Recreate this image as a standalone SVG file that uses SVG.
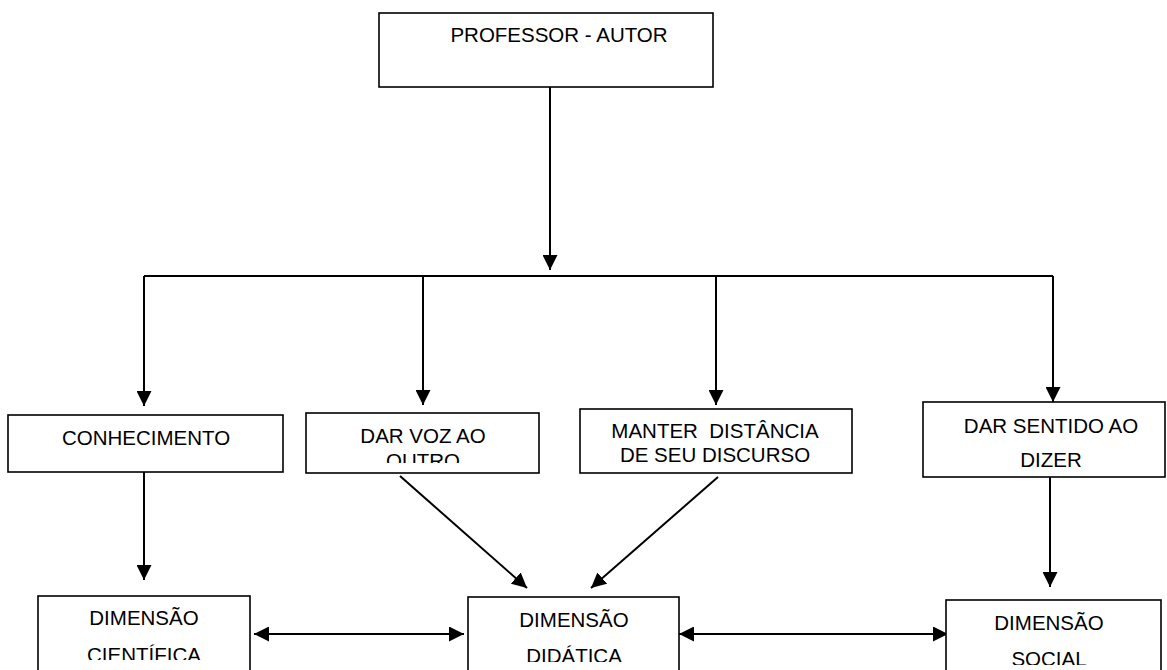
<svg xmlns="http://www.w3.org/2000/svg" width="1167" height="670" viewBox="0 0 1167 670">
<style>
.box{fill:#fff;stroke:#000;stroke-width:1.6}
.t{font-family:"Liberation Sans",Arial,sans-serif;font-size:20.5px;fill:#000;text-anchor:middle}
.c{fill:none;stroke:#000;stroke-width:2}
</style>
<defs>
<marker id="ah" markerUnits="userSpaceOnUse" markerWidth="15" markerHeight="15" refX="15" refY="7.5" orient="auto-start-reverse" viewBox="0 0 15 15">
<path d="M0,0 L15,7.5 L0,15 z" fill="#000"/>
</marker>
<clipPath id="cl1"><rect x="306" y="413" width="233" height="50"/></clipPath>
<clipPath id="cl2"><rect x="923" y="402" width="244" height="65.5"/></clipPath>
<clipPath id="cl3"><rect x="38" y="596" width="212" height="64"/></clipPath>
<clipPath id="cl4"><rect x="468" y="597" width="211" height="65"/></clipPath>
<clipPath id="cl5"><rect x="946" y="600" width="215" height="65"/></clipPath>
</defs>
<g id="connectors">
<path class="c" d="M550,87 V270" marker-end="url(#ah)"/>
<path class="c" d="M144,276 H1053"/>
<path class="c" d="M144,276 V406" marker-end="url(#ah)"/>
<path class="c" d="M423,276 V405" marker-end="url(#ah)"/>
<path class="c" d="M716,276 V405" marker-end="url(#ah)"/>
<path class="c" d="M1053,276 V402" marker-end="url(#ah)"/>
<path class="c" d="M144,472 V580" marker-end="url(#ah)"/>
<path class="c" d="M400,476 L527,588" marker-end="url(#ah)"/>
<path class="c" d="M718,477 L591,588" marker-end="url(#ah)"/>
<path class="c" d="M1050,477 V587" marker-end="url(#ah)"/>
<path class="c" d="M254,634 H464" marker-start="url(#ah)" marker-end="url(#ah)"/>
<path class="c" d="M679,634 H948" marker-start="url(#ah)" marker-end="url(#ah)"/>
</g>
<g id="professor-autor">
<rect class="box" x="379" y="13" width="334" height="74"/>
<text class="t" x="559" y="42">PROFESSOR - AUTOR</text>
</g>
<g id="conhecimento">
<rect class="box" x="8" y="415" width="275" height="57"/>
<text class="t" x="146" y="445">CONHECIMENTO</text>
</g>
<g id="dar-voz">
<rect class="box" x="306" y="413" width="233" height="60"/>
<g clip-path="url(#cl1)">
<text class="t" x="423" y="443">DAR VOZ AO</text>
<text class="t" x="423" y="468">OUTRO</text>
</g>
</g>
<g id="manter-distancia">
<rect class="box" x="580" y="409" width="272" height="64"/>
<text class="t" x="715" y="438" xml:space="preserve">MANTER  DISTÂNCIA</text>
<text class="t" x="715" y="462">DE SEU DISCURSO</text>
</g>
<g id="dar-sentido">
<rect class="box" x="923" y="402" width="242" height="75"/>
<g clip-path="url(#cl2)">
<text class="t" x="1051" y="433">DAR SENTIDO AO</text>
<text class="t" x="1051" y="467">DIZER</text>
</g>
</g>
<g id="dimensao-cientifica">
<rect class="box" x="38" y="596" width="212" height="90"/>
<g clip-path="url(#cl3)">
<text class="t" x="144" y="625">DIMENSÃO</text>
<text class="t" x="144" y="662">CIENTÍFICA</text>
</g>
</g>
<g id="dimensao-didatica">
<rect class="box" x="468" y="597" width="211" height="90"/>
<g clip-path="url(#cl4)">
<text class="t" x="574" y="627">DIMENSÃO</text>
<text class="t" x="574" y="663">DIDÁTICA</text>
</g>
</g>
<g id="dimensao-social">
<rect class="box" x="946" y="600" width="215" height="90"/>
<g clip-path="url(#cl5)">
<text class="t" x="1049" y="630">DIMENSÃO</text>
<text class="t" x="1049" y="666">SOCIAL</text>
</g>
</g>
</svg>
